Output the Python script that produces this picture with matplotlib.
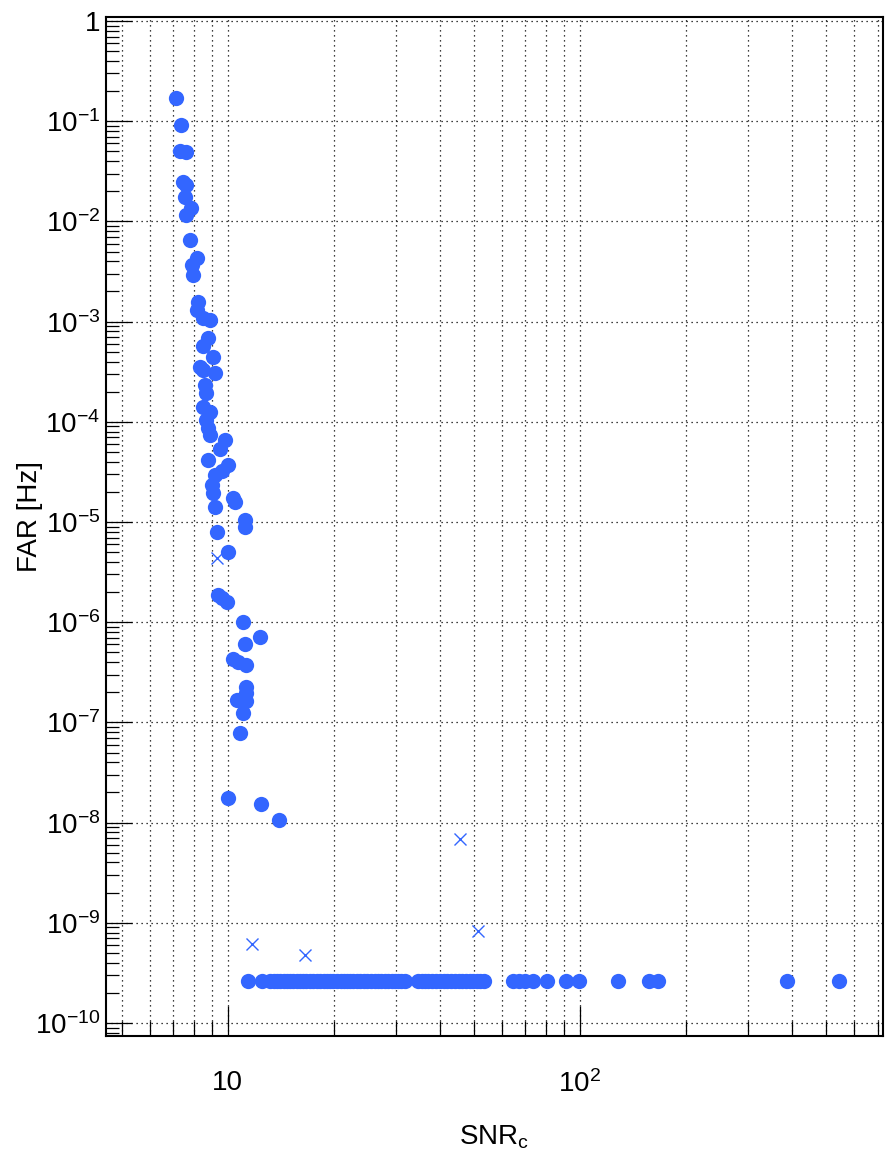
"""FAR vs SNR_c scatter (log-log), ROOT-style frame and dotted grid."""

import math

import matplotlib

matplotlib.use("Agg")
import matplotlib.pyplot as plt
from matplotlib.ticker import FuncFormatter, LogLocator, NullFormatter

OUT_PATH = "out.png"

# triggers found (filled circles): SNR_c and FAR [Hz]
DOT_SNR = [
    7.15, 7.34, 7.3, 7.6, 7.46, 7.6, 7.55, 7.85, 7.6,
    7.80, 8.15, 7.89, 7.97, 8.24, 8.15, 8.50, 8.89, 8.79, 8.50,
    9.08, 8.33, 8.50, 9.18, 8.60, 8.70, 8.50, 8.89, 8.70, 8.79,
    8.89, 9.80, 9.49, 8.79, 10.0, 9.6, 9.18, 8.99, 9.08, 10.35,
    10.5, 9.18, 11.18, 11.18, 9.29, 10.0, 9.38, 9.65, 9.92, 11.01,
    12.33, 11.18, 10.35, 10.70, 11.30, 11.3, 11.3, 10.6, 11.3, 11.05,
    10.8, 10.0, 12.4, 13.96,
]
DOT_FAR = [
    0.169, 0.0916, 0.050, 0.049, 0.0249, 0.023, 0.0177, 0.0135, 0.0116,
    6.52e-3, 4.28e-3, 3.67e-3, 2.92e-3, 1.58e-3, 1.31e-3, 1.08e-3, 1.04e-3, 6.8e-4, 5.7e-4,
    4.46e-4, 3.55e-4, 3.29e-4, 3.05e-4, 2.33e-4, 1.92e-4, 1.41e-4, 1.26e-4, 1.05e-4, 8.6e-5,
    7.4e-5, 6.6e-5, 5.4e-5, 4.16e-5, 3.7e-5, 3.2e-5, 2.95e-5, 2.34e-5, 1.94e-5, 1.73e-5,
    1.6e-5, 1.42e-5, 1.05e-5, 9.0e-6, 8.0e-6, 5.05e-6, 1.87e-6, 1.75e-6, 1.6e-6, 1.01e-6,
    7.07e-7, 6.05e-7, 4.26e-7, 4.04e-7, 3.74e-7, 2.27e-7, 1.95e-7, 1.67e-7, 1.62e-7, 1.23e-7,
    7.8e-8, 1.78e-8, 1.55e-8, 1.06e-8,
]

# loud triggers sitting on the FAR floor
FLOOR_SNR = [
    11.4, 12.5, 13.16, 13.5, 13.78, 14.1, 14.42, 14.7, 15.0, 15.35,
    15.7, 16.0, 16.33, 16.7, 17.1, 17.5, 17.9, 18.3, 18.74, 19.1,
    19.5, 19.9, 20.4, 20.9, 21.4, 21.8, 22.2, 22.7, 23.2, 23.7,
    24.3, 24.9, 25.5, 26.1, 26.7, 27.3, 27.9, 28.5, 29.2, 29.8,
    30.4, 31.1, 31.8, 34.7, 35.5, 36.3, 37.1, 38.0, 39.0, 40.0,
    41.0, 41.9, 43.0, 44.2, 45.2, 46.2, 47.4, 48.7, 49.8, 50.9,
    52.1, 53.4, 64.5, 67.0, 69.8, 73.5, 80.6, 91.2, 99.3, 128.2,
    157.0, 166.6, 387.0, 544.0,
]
FLOOR_FAR = [
    2.6e-10, 2.6e-10, 2.6e-10, 2.6e-10, 2.6e-10, 2.6e-10, 2.6e-10, 2.6e-10, 2.6e-10, 2.6e-10,
    2.6e-10, 2.6e-10, 2.6e-10, 2.6e-10, 2.6e-10, 2.6e-10, 2.6e-10, 2.6e-10, 2.6e-10, 2.6e-10,
    2.6e-10, 2.6e-10, 2.6e-10, 2.6e-10, 2.6e-10, 2.6e-10, 2.6e-10, 2.6e-10, 2.6e-10, 2.6e-10,
    2.6e-10, 2.6e-10, 2.6e-10, 2.6e-10, 2.6e-10, 2.6e-10, 2.6e-10, 2.6e-10, 2.6e-10, 2.6e-10,
    2.6e-10, 2.6e-10, 2.6e-10, 2.6e-10, 2.6e-10, 2.6e-10, 2.6e-10, 2.6e-10, 2.6e-10, 2.6e-10,
    2.6e-10, 2.6e-10, 2.6e-10, 2.6e-10, 2.6e-10, 2.6e-10, 2.6e-10, 2.6e-10, 2.6e-10, 2.6e-10,
    2.6e-10, 2.6e-10, 2.6e-10, 2.6e-10, 2.6e-10, 2.6e-10, 2.6e-10, 2.6e-10, 2.6e-10, 2.6e-10,
    2.6e-10, 2.6e-10, 2.6e-10, 2.6e-10,
]

# crosses
CROSS_SNR = [9.32, 11.72, 16.55, 45.6, 51.4]
CROSS_FAR = [4.4e-6, 6.2e-10, 4.75e-10, 6.8e-9, 8.3e-10]

X_LIM = (4.5, 725.0)
Y_LIM = (7.47e-11, 1.104)
BLUE = "#3366ff"


def _set_font() -> None:
    plt.rcParams["font.family"] = ["Liberation Sans", "DejaVu Sans"]
    plt.rcParams["mathtext.fontset"] = "custom"
    plt.rcParams["mathtext.rm"] = "Liberation Sans"
    plt.rcParams["mathtext.it"] = "Liberation Sans:italic"
    plt.rcParams["mathtext.default"] = "regular"
    plt.rcParams["axes.unicode_minus"] = False


def _pow_label(v: float, _pos=None) -> str:
    e = int(round(math.log10(v)))
    if e == 0:
        return "1"
    if e == 1:
        return "10"
    return f"$10^{{{e}}}$"


def main() -> None:
    _set_font()

    fig = plt.figure(figsize=(8.85, 11.55), dpi=100)
    ax = fig.add_axes([0.1194, 0.1033, 0.8783, 0.8822])
    ax.set_xscale("log")
    ax.set_yscale("log")
    ax.set_xlim(*X_LIM)
    ax.set_ylim(*Y_LIM)

    ax.plot(DOT_SNR, DOT_FAR, "o", color=BLUE, ms=11, mew=0, zorder=3)
    ax.plot(FLOOR_SNR, FLOOR_FAR, "o", color=BLUE, ms=11, mew=0, zorder=3)
    ax.plot(CROSS_SNR, CROSS_FAR, "x", color=BLUE, ms=9, mew=1.0, zorder=3)

    ax.xaxis.set_major_locator(LogLocator(base=10, numticks=10))
    ax.xaxis.set_minor_locator(LogLocator(base=10, subs=range(2, 10), numticks=20))
    ax.yaxis.set_major_locator(LogLocator(base=10, numticks=20))
    ax.yaxis.set_minor_locator(LogLocator(base=10, subs=range(2, 10), numticks=30))
    ax.xaxis.set_major_formatter(FuncFormatter(_pow_label))
    ax.yaxis.set_major_formatter(FuncFormatter(_pow_label))
    ax.xaxis.set_minor_formatter(NullFormatter())
    ax.yaxis.set_minor_formatter(NullFormatter())

    ax.tick_params(axis="both", which="both", direction="in", color="black",
                   top=False, right=False, labelsize=20)
    ax.tick_params(axis="x", which="major", length=21.6, width=0.9, pad=25)
    ax.tick_params(axis="x", which="minor", length=10.8, width=0.9)
    ax.tick_params(axis="y", which="major", length=18.7, width=0.9, pad=4)
    ax.tick_params(axis="y", which="minor", length=9.4, width=0.9)

    grid_kw = dict(color="black", linestyle=(0, (1, 3)), linewidth=0.9)
    ax.grid(True, axis="x", which="both", **grid_kw)
    ax.grid(True, axis="y", which="major", **grid_kw)
    ax.set_axisbelow(True)

    for sp in ax.spines.values():
        sp.set_linewidth(1.5)

    ax.set_xlabel("SNR$_c$", fontsize=20, labelpad=18)
    ax.set_ylabel("FAR [Hz]", fontsize=20)
    ax.yaxis.set_label_coords(-0.080, 0.51)

    fig.savefig(OUT_PATH, dpi=100)
    plt.close(fig)


if __name__ == "__main__":
    main()
